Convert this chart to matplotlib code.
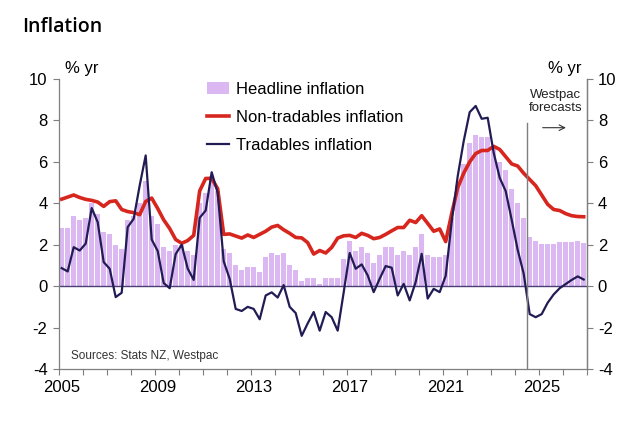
import numpy as np
import matplotlib
matplotlib.use("Agg")
import matplotlib.pyplot as plt

# quarterly data, 2005 Q1 to 2026 Q4 (forecasts from 2024 Q3)
start_year = 2005
headline = [2.8, 2.8, 3.4, 3.2, 3.3, 4.0, 3.5, 2.6, 2.5, 2.0, 1.8, 3.2,
            3.4, 4.0, 5.1, 3.4, 3.0, 1.9, 1.7, 2.0, 2.0, 1.7, 1.5, 4.0,
            4.5, 5.3, 4.6, 1.8, 1.6, 1.0, 0.8, 0.9, 0.9, 0.7, 1.4, 1.6,
            1.5, 1.6, 1.0, 0.8, 0.25, 0.4, 0.4, 0.1, 0.4, 0.4, 0.4, 1.3,
            2.2, 1.7, 1.9, 1.6, 1.1, 1.5, 1.9, 1.9, 1.5, 1.7, 1.5, 1.9,
            2.5, 1.5, 1.4, 1.4, 1.5, 3.3, 4.9, 5.9, 6.9, 7.3, 7.2, 7.2,
            6.7, 6.0, 5.6, 4.7, 4.0, 3.3, 2.35, 2.2, 2.05, 2.05, 2.05, 2.15,
            2.15, 2.15, 2.2, 2.1]
non_tradables = [4.2, 4.3, 4.4, 4.28, 4.19, 4.14, 4.06, 3.85, 4.08, 4.12, 3.7, 3.6,
                 3.55, 3.45, 4.09, 4.25, 3.75, 3.2, 2.78, 2.25, 2.07, 2.2, 2.45, 4.6,
                 5.2, 5.2, 4.7, 2.5, 2.52, 2.42, 2.32, 2.47, 2.35, 2.5, 2.65, 2.85,
                 2.93, 2.72, 2.55, 2.35, 2.33, 2.1, 1.55, 1.72, 1.6, 1.87, 2.32, 2.43,
                 2.45, 2.35, 2.55, 2.45, 2.29, 2.35, 2.5, 2.67, 2.83, 2.83, 3.18, 3.07,
                 3.4, 3.03, 2.65, 2.76, 2.15, 3.5, 4.75, 5.45, 6.0, 6.4, 6.55, 6.55,
                 6.75, 6.6, 6.25, 5.9, 5.8, 5.45, 5.15, 4.85, 4.4, 3.95, 3.7, 3.65,
                 3.5, 3.4, 3.36, 3.35]
tradables = [0.87, 0.71, 1.88, 1.72, 2.05, 3.77, 3.09, 1.16, 0.84, -0.53, -0.32, 2.85,
             3.25, 4.86, 6.31, 2.25, 1.7, 0.15, -0.1, 1.55, 2.0, 0.85, 0.3, 3.3,
             3.65, 5.5, 4.5, 1.2, 0.35, -1.1, -1.2, -1.0, -1.1, -1.6, -0.45, -0.3,
             -0.55, 0.05, -1.0, -1.3, -2.4, -1.8, -1.25, -2.15, -1.25, -1.5, -2.15, -0.3,
             1.6, 0.84, 1.05, 0.52, -0.29, 0.36, 0.97, 0.89, -0.45, 0.11, -0.69, 0.2,
             1.56, -0.6, -0.13, -0.29, 0.5, 3.1, 5.3, 7.0, 8.4, 8.7, 8.08, 8.13,
             6.44, 5.23, 4.59, 3.2, 1.75, 0.6, -1.35, -1.5, -1.35, -0.8, -0.4, -0.1,
             0.1, 0.3, 0.47, 0.32]
forecast_start = 2024.5
year_labels = [2005, 2009, 2013, 2017, 2021, 2025]

x = start_year + 0.125 + 0.25 * np.arange(len(headline))

purple = "#DBB8F2"
red = "#D7261E"
navy = "#221C55"
grey = "#7F7F7F"

plt.rcParams["font.family"] = ["Liberation Sans", "DejaVu Sans"]
plt.rcParams["axes.unicode_minus"] = False

fig = plt.figure(figsize=(6.4, 4.23), dpi=100)
ax = fig.add_axes([0.0917, 0.1277, 0.825, 0.6855])

bars = ax.bar(x, headline, width=0.2, color=purple, label="Headline inflation", zorder=1)
ax.axhline(0, color="#4B3F73", lw=1, zorder=2)
l_nt, = ax.plot(x, non_tradables, color=red, lw=2.6, label="Non-tradables inflation", zorder=3)
l_t, = ax.plot(x, tradables, color=navy, lw=1.6, label="Tradables inflation", zorder=4)

ax.set_xlim(2005, 2027)
ax.set_ylim(-4, 10)
ax.set_yticks(range(-4, 11, 2))
ax.set_xticks(range(2005, 2028))
ax.set_xticklabels([])
ax.set_xticks([y + 0.125 for y in year_labels], minor=True)
ax.set_xticklabels([str(y) for y in year_labels], minor=True)
ax.tick_params(axis="x", which="minor", length=0, pad=8, labelsize=12)
ax.tick_params(axis="x", which="major", length=4, width=0.8, color=grey)
ax.tick_params(axis="y", length=4, width=0.8, color=grey, labelsize=12, pad=4)

ax.spines["top"].set_visible(False)
for s in ["left", "bottom", "right"]:
    ax.spines[s].set_color(grey)
    ax.spines[s].set_linewidth(0.9)

ax2 = ax.twinx()
ax2.set_ylim(-4, 10)
ax2.set_yticks(range(-4, 11, 2))
ax2.tick_params(axis="y", length=4, width=0.8, color=grey, labelsize=12, pad=4)
for s in ["top", "left", "bottom"]:
    ax2.spines[s].set_visible(False)
ax2.spines["right"].set_color(grey)
ax2.spines["right"].set_linewidth(0.9)

# forecast marker
ax.plot([forecast_start, forecast_start], [-4, 7.9], color=grey, lw=1, zorder=5)
ax.annotate("", xy=(2026.25, 7.65), xytext=(2025.05, 7.65),
            arrowprops=dict(arrowstyle="->", color="#333333", lw=0.8))
ax.text(2025.7, 8.9, "Westpac\nforecasts", ha="center", va="center", fontsize=9.5,
        linespacing=1.1, color="#222222")

ax.text(0.012, 1.035, "% yr", transform=ax.transAxes, fontsize=12, ha="left", va="center")
ax.text(0.99, 1.035, "% yr", transform=ax.transAxes, fontsize=12, ha="right", va="center")
ax.text(2005.5, -3.35, "Sources: Stats NZ, Westpac", fontsize=8.5, color="#333333",
        ha="left", va="center")

ax.legend([bars, l_nt, l_t],
          ["Headline inflation", "Non-tradables inflation", "Tradables inflation"],
          loc="upper left", bbox_to_anchor=(0.268, 1.014), frameon=False, fontsize=12,
          handlelength=1.3, handletextpad=0.45, labelspacing=0.8, borderaxespad=0)

fig.text(0.034, 0.935, "Inflation", fontsize=14, fontweight="semibold",
         family=["Open Sans", "DejaVu Sans"], ha="left", va="center")

fig.savefig("out.png", dpi=100, facecolor="white")
